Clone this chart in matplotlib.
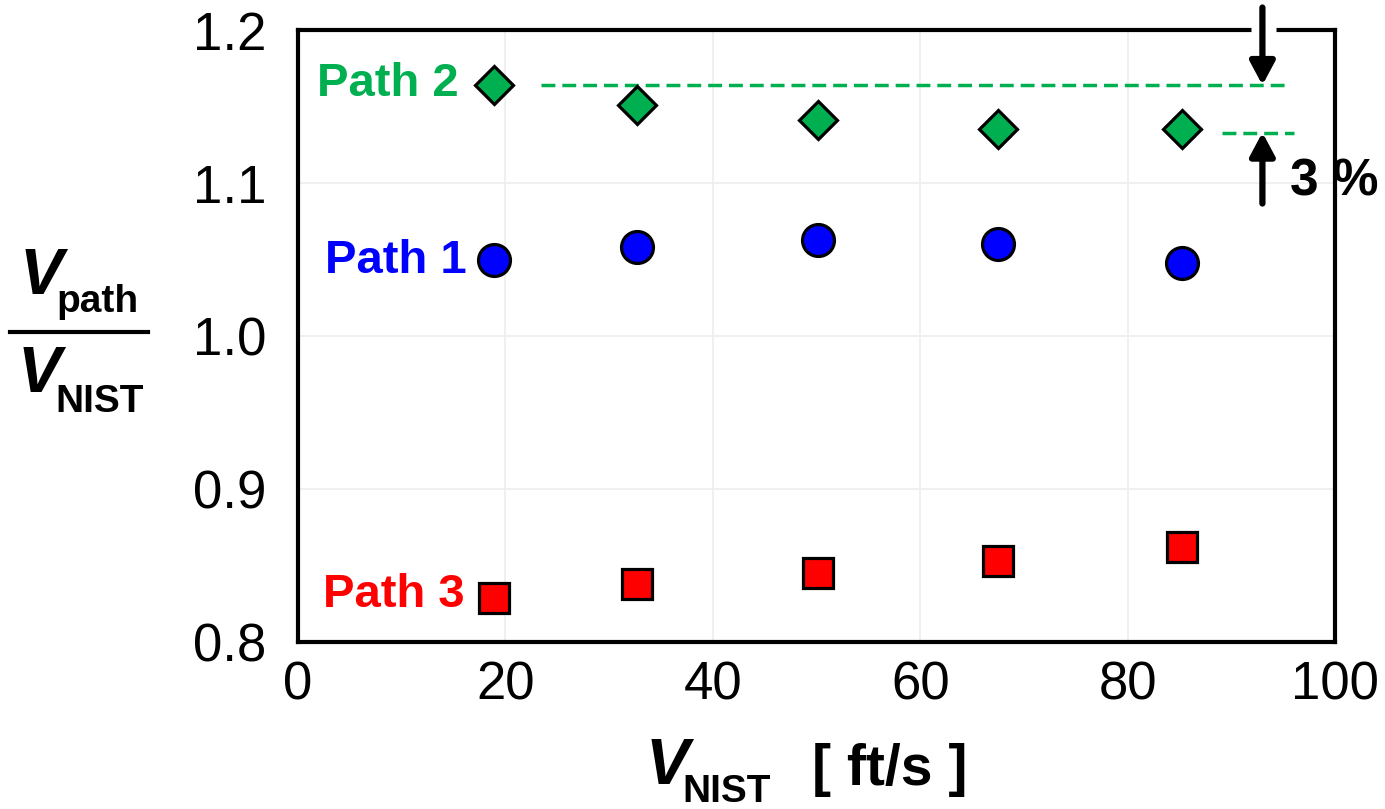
import matplotlib

matplotlib.use("Agg")

import matplotlib.pyplot as plt

plt.rcParams["font.family"] = ["Liberation Sans", "DejaVu Sans"]

# ---------------------------------------------------------------------------
# Data
# ---------------------------------------------------------------------------
v_nist = [18.9, 32.7, 50.1, 67.5, 85.2]
path1 = [1.050, 1.058, 1.063, 1.060, 1.048]
path2 = [1.164, 1.151, 1.141, 1.135, 1.135]
path3 = [0.829, 0.838, 0.845, 0.853, 0.862]

x_ticks = [0, 20, 40, 60, 80, 100]
y_ticks = [0.8, 0.9, 1.0, 1.1, 1.2]

GREEN = "#00B050"
BLUE = "#0000FF"
RED = "#FF0000"

fig = plt.figure(figsize=(13.85, 8.09), dpi=100)
ax = fig.add_axes([0.2152, 0.2064, 0.7487, 0.7565])
ax.set_xlim(0, 100)
ax.set_ylim(0.8, 1.2)
ax.set_xticks(x_ticks)
ax.set_yticks(y_ticks)
ax.set_xticklabels([f"{v:g}" for v in x_ticks])
ax.set_yticklabels([f"{v:.1f}" for v in y_ticks])
ax.tick_params(length=0, labelsize=38)
ax.tick_params(axis="y", pad=23)
ax.tick_params(axis="x", pad=13)
ax.grid(True, color="#EEEEEE", lw=1.2)
ax.set_axisbelow(True)
for s in ax.spines.values():
    s.set_linewidth(3.0)
    s.set_color("black")

ax.plot(v_nist, path2, ls="none", marker="D", ms=19, mfc=GREEN, mec="black", mew=2.3, zorder=5)
ax.plot(v_nist, path1, ls="none", marker="o", ms=23, mfc=BLUE, mec="black", mew=2.3, zorder=5)
ax.plot(v_nist, path3, ls="none", marker="s", ms=21, mfc=RED, mec="black", mew=2.3, zorder=5)

# path labels
ax.text(15.5, path2[0] + 0.001, "Path 2", color=GREEN, fontsize=34, fontweight="bold",
        ha="right", va="center")
ax.text(16.3, path1[0] - 0.001, "Path 1", color=BLUE, fontsize=34, fontweight="bold",
        ha="right", va="center")
ax.text(16.1, path3[0] + 0.002, "Path 3", color=RED, fontsize=34, fontweight="bold",
        ha="right", va="center")

# 3 % spread annotation
ax.plot([23.4, 95.6], [path2[0], path2[0]], color=GREEN, ls=(0, (4, 2)), lw=2.5, clip_on=False)
ax.plot([89.1, 96.0], [1.133, 1.133], color=GREEN, ls=(0, (4, 2)), lw=2.5, clip_on=False)
ax.plot([91.9, 94.3], [1.2, 1.2], color="white", lw=5, clip_on=False, zorder=3,
        solid_capstyle="butt")
arrow_kw = dict(arrowstyle="-|>,head_length=1.4,head_width=0.75", lw=4.5, color="black",
                shrinkA=0, shrinkB=0)
ax.annotate("", xy=(93.0, path2[0]), xytext=(93.0, 1.2147), arrowprops=arrow_kw,
            annotation_clip=False, zorder=6)
ax.annotate("", xy=(93.0, 1.133), xytext=(93.0, 1.0866), arrowprops=arrow_kw,
            annotation_clip=False, zorder=6)
ax.text(95.7, 1.1005, "3 %", fontsize=37, fontweight="bold", ha="left", va="center",
        clip_on=False)

# y label: V_path / V_NIST as a stacked fraction
fig.text(20 / 1385, 1 - 277 / 809, "V", fontsize=47, fontweight="bold", style="italic",
         ha="left", va="center")
fig.text(56 / 1385, 1 - 302 / 809, "path", fontsize=28, fontweight="bold",
         ha="left", va="center")
fig.add_artist(plt.Line2D([10 / 1385, 148 / 1385], [1 - 332 / 809, 1 - 332 / 809],
                          color="black", lw=3))
fig.text(18 / 1385, 1 - 375 / 809, "V", fontsize=47, fontweight="bold", style="italic",
         ha="left", va="center")
fig.text(55 / 1385, 1 - 402 / 809, "NIST", fontsize=28, fontweight="bold",
         ha="left", va="center")

# x label
fig.text(646 / 1385, 1 - 767 / 809, "V", fontsize=47, fontweight="bold", style="italic",
         ha="left", va="center")
fig.text(682 / 1385, 1 - 792 / 809, "NIST", fontsize=28, fontweight="bold",
         ha="left", va="center")
fig.text(812 / 1385, 1 - 770 / 809, "[ ft/s ]", fontsize=41, fontweight="bold",
         ha="left", va="center")

fig.savefig("out.png", dpi=100)
